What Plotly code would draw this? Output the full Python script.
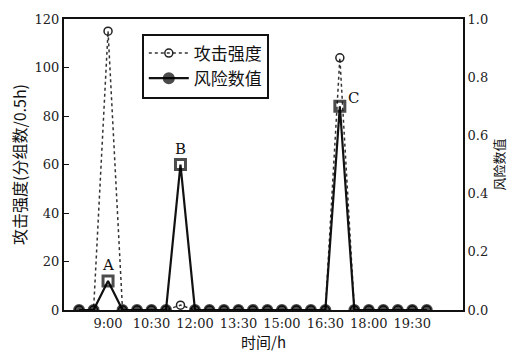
import plotly.graph_objects as go

# Half-hour sampling times (hours of day)
hours = [8.0, 8.5, 9.0, 9.5, 10.0, 10.5, 11.0, 11.5, 12.0, 12.5, 13.0, 13.5,
         14.0, 14.5, 15.0, 15.5, 16.0, 16.5, 17.0, 17.5, 18.0, 18.5, 19.0,
         19.5, 20.0]
# Attack intensity (packets per 0.5 h)
attack = [0, 0, 115, 0, 0, 0, 0, 2, 0, 0, 0, 0,
          0, 0, 0, 0, 0, 0, 104, 0, 0, 0, 0,
          0, 0]
# Risk value
risk = [0, 0, 0.1, 0, 0, 0, 0, 0.5, 0, 0, 0, 0,
        0, 0, 0, 0, 0, 0, 0.7, 0, 0, 0, 0,
        0, 0]

tick_vals = [9.0, 10.5, 12.0, 13.5, 15.0, 16.5, 18.0, 19.5]
tick_text = ["9:00", "10:30", "12:00", "13:30", "15:00", "16:30", "18:00", "19:30"]
peak_labels = ["A", "B", "C"]

LEFT_MAX = 120
RIGHT_MAX = 1.0

serif = "DejaVu Serif, Liberation Serif, serif"
cjk = "Noto Sans CJK SC"

peak_idx = [i for i, r in enumerate(risk) if r > 0]
risk_symbols = ["square-open" if i in peak_idx else "circle" for i in range(len(risk))]
risk_sizes = [10 if i in peak_idx else 9 for i in range(len(risk))]

fig = go.Figure()

fig.add_trace(go.Scatter(
    x=hours, y=attack, name="攻击强度", mode="lines+markers",
    line=dict(color="#333", width=1.5, dash="dot"),
    marker=dict(symbol="circle-open", size=8, color="#222", line=dict(width=1.5)),
    yaxis="y",
))
fig.add_trace(go.Scatter(
    x=hours, y=risk, name="风险数值", mode="lines+markers",
    line=dict(color="#111", width=2.2),
    marker=dict(symbol=risk_symbols, size=risk_sizes, color="#000",
                line=dict(width=3, color="#000")),
    yaxis="y2",
))

# Peak labels placed just above the risk markers
for k, i in enumerate(peak_idx):
    yv = risk[i] / RIGHT_MAX * LEFT_MAX
    if peak_labels[k] == "C":
        fig.add_annotation(x=hours[i], y=yv, xref="x", yref="y", text="C",
                           showarrow=False, xshift=14, yshift=8,
                           font=dict(family=serif, size=15, color="#111"))
    else:
        fig.add_annotation(x=hours[i], y=yv, xref="x", yref="y", text=peak_labels[k],
                           showarrow=False, yshift=16,
                           font=dict(family=serif, size=15, color="#111"))

fig.update_layout(
    width=517, height=355,
    margin=dict(l=64, r=54, t=18, b=42),
    paper_bgcolor="white", plot_bgcolor="white",
    showlegend=True,
    legend=dict(x=0.195, y=0.95, xanchor="left", yanchor="top",
                bordercolor="#111", borderwidth=2, bgcolor="white",
                font=dict(family=cjk, size=17, color="#111"),
                itemwidth=40, tracegroupgap=0),
    xaxis=dict(range=[7.48, 21.25], tickvals=tick_vals, ticktext=tick_text,
               showline=True, linecolor="#111", linewidth=2, mirror=True,
               ticks="", showgrid=False, zeroline=False,
               tickfont=dict(family=serif, size=13, color="#222"),
               title=dict(text="时间/h", font=dict(family=cjk, size=15, color="#111"),
                          standoff=2)),
    yaxis=dict(range=[0, LEFT_MAX], dtick=20, showline=True, linecolor="#111",
               linewidth=2, ticks="inside", ticklen=5, tickcolor="#111",
               showgrid=False, zeroline=False,
               tickfont=dict(family=serif, size=13, color="#222"),
               title=dict(text="攻击强度(分组数/0.5h)",
                          font=dict(family=cjk, size=16, color="#111"), standoff=4)),
    yaxis2=dict(range=[0, RIGHT_MAX], dtick=0.2, tickformat=".1f", overlaying="y",
                side="right", showline=True, linecolor="#111", linewidth=2,
                ticks="", showgrid=False, zeroline=False,
                tickfont=dict(family=serif, size=13, color="#222"),
                title=dict(text="风险数值", font=dict(family=cjk, size=13, color="#111"),
                           standoff=8)),
)

fig.write_html("out.html")
